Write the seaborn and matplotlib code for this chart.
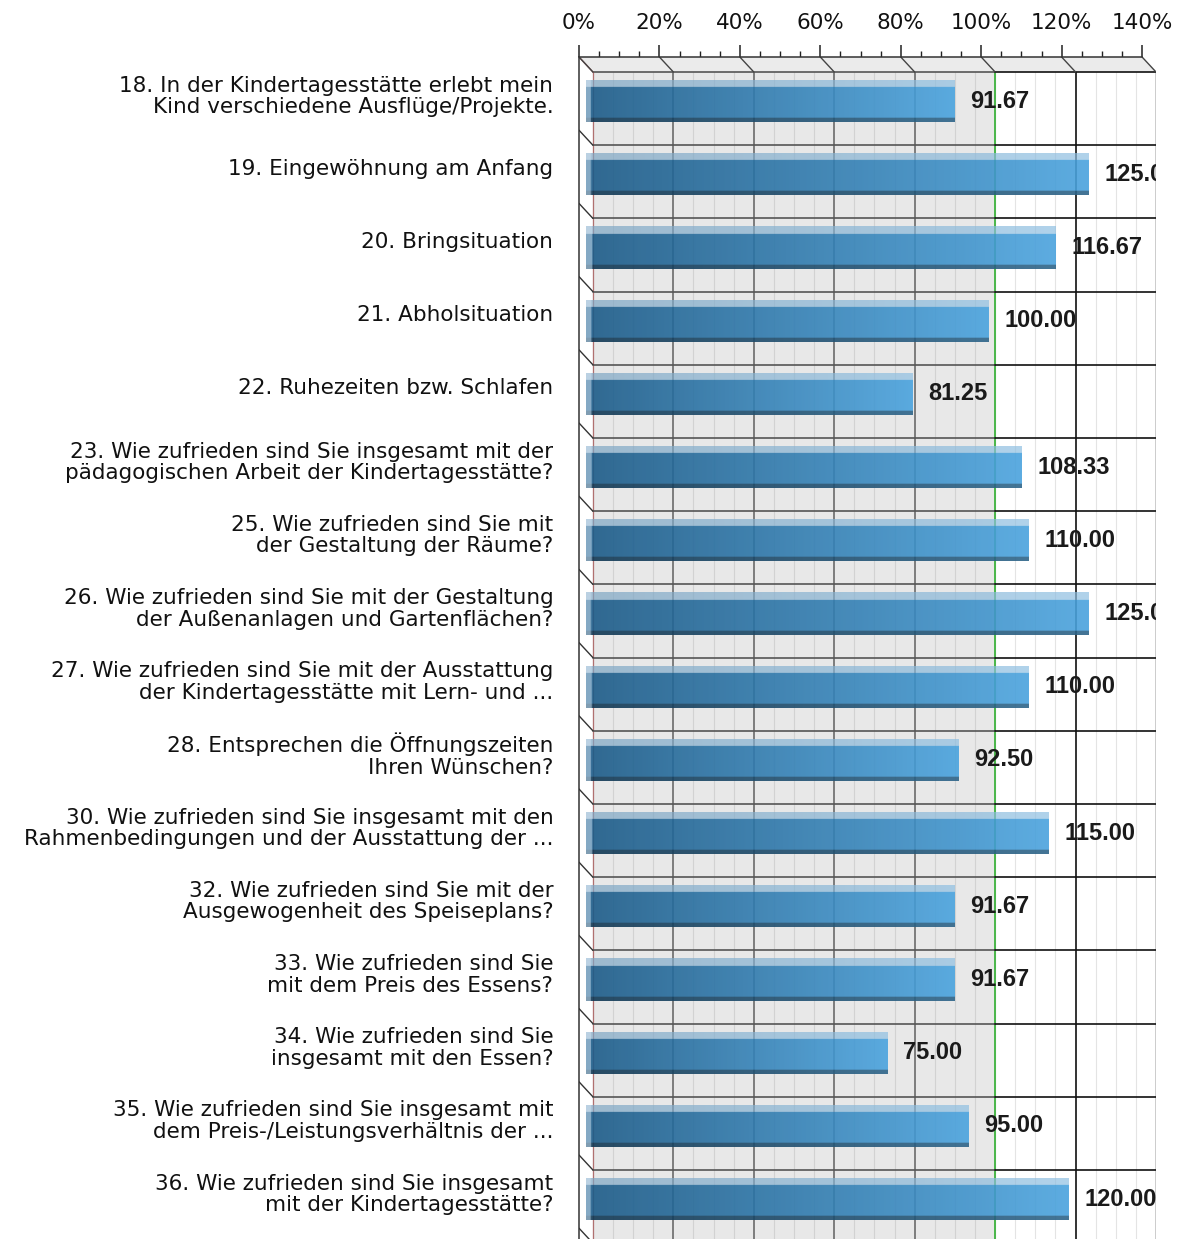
import numpy as np
import pandas as pd
import seaborn as sns
import matplotlib.pyplot as plt
from matplotlib.patches import Polygon, Rectangle

questions = [
    "18. In der Kindertagesstätte erlebt mein\nKind verschiedene Ausflüge/Projekte.",
    "19. Eingewöhnung am Anfang",
    "20. Bringsituation",
    "21. Abholsituation",
    "22. Ruhezeiten bzw. Schlafen",
    "23. Wie zufrieden sind Sie insgesamt mit der\npädagogischen Arbeit der Kindertagesstätte?",
    "25. Wie zufrieden sind Sie mit\nder Gestaltung der Räume?",
    "26. Wie zufrieden sind Sie mit der Gestaltung\nder Außenanlagen und Gartenflächen?",
    "27. Wie zufrieden sind Sie mit der Ausstattung\nder Kindertagesstätte mit Lern- und ...",
    "28. Entsprechen die Öffnungszeiten\nIhren Wünschen?",
    "30. Wie zufrieden sind Sie insgesamt mit den\nRahmenbedingungen und der Ausstattung der ...",
    "32. Wie zufrieden sind Sie mit der\nAusgewogenheit des Speiseplans?",
    "33. Wie zufrieden sind Sie\nmit dem Preis des Essens?",
    "34. Wie zufrieden sind Sie\ninsgesamt mit den Essen?",
    "35. Wie zufrieden sind Sie insgesamt mit\ndem Preis-/Leistungsverhältnis der ...",
    "36. Wie zufrieden sind Sie insgesamt\nmit der Kindertagesstätte?",
]
scores = [91.67, 125.00, 116.67, 100.00, 81.25, 108.33, 110.00, 125.00,
          110.00, 92.50, 115.00, 91.67, 91.67, 75.00, 95.00, 120.00]
pct_ticks = [0, 20, 40, 60, 80, 100, 120, 140]

sns.set_style("white")
plt.rcParams["font.family"] = ["DejaVu Sans"]

df = pd.DataFrame({"question": questions, "score": scores})
n = len(questions)

# fake 3d: back wall sits right of and below the front plane
dx = 3.46
dy = 0.205
x_max = pct_ticks[-1]

fig = plt.figure(figsize=(11.79, 12.39), dpi=100)
ax = fig.add_axes([579 / 1179, 0, 577 / 1179, 1182 / 1239])

sns.barplot(data=df, x="score", y="question", orient="h", width=0.574,
            color="#2f7fb8", ax=ax, zorder=3)
bars = list(ax.patches)

top_f = -0.5 - dy / 2
top_b = -0.5 + dy / 2
bot_b = n + 1

# back wall
ax.add_patch(Rectangle((dx / 2, top_b), 100, bot_b - top_b, color="#e8e8e8", zorder=0))
for v in range(0, x_max + 1, 5):
    xb = v + dx / 2
    if v == 0:
        c, lw = "#b07070", 0.9
    elif v == 100:
        c, lw = "#2eae2e", 1.2
    elif v == x_max:
        c, lw = "#c4c4c4", 1.2
    elif v % 20 == 0:
        c, lw = ("#6a6a6a" if v < 100 else "#111111"), 1.2
    else:
        c, lw = ("#d2d2d2" if v < 100 else "#e4e4e4"), 0.8
    ax.plot([xb, xb], [top_b, bot_b], color=c, lw=lw, zorder=1)

for b in np.arange(-0.5, n + 0.5, 1.0):
    yb = b + dy / 2
    ax.plot([dx / 2, 100 + dx / 2], [yb, yb], color="#555555", lw=1.2, zorder=1.5)
    ax.plot([100 + dx / 2, x_max + dx / 2], [yb, yb], color="#111111", lw=1.2, zorder=1.5)
    # left side diagonals
    ax.plot([-dx / 2, dx / 2], [b - dy / 2, yb],
            color="#a06060" if b < 0 else "#333333", lw=1.0, zorder=1.5)

# top face
ax.add_patch(Polygon([(-dx / 2, top_f), (x_max - dx / 2, top_f),
                      (x_max + dx / 2, top_b), (dx / 2, top_b)],
                     closed=True, facecolor="#ebebeb", edgecolor="none", zorder=1))
for v in pct_ticks:
    ax.plot([v - dx / 2, v + dx / 2], [top_f, top_b], color="#444444", lw=1.0, zorder=1.5)

# gradient fill for the bars
left_c = np.array([0x1b, 0x5a, 0x87]) / 255
right_c = np.array([0x4a, 0xa3, 0xde]) / 255
light_c = np.array([0xb4, 0xcf, 0xe4]) / 255
rows, cols = 60, 300
r = np.linspace(0, 1, rows)[:, None]
for p in bars:
    x0, y0, w, h = p.get_x(), p.get_y(), p.get_width(), p.get_height()
    t = np.linspace(0, 1, cols)
    base = left_c + (right_c - left_c) * t[:, None]
    img = np.tile(base[None, :, :], (rows, 1, 1))
    img = np.where((r < 0.17)[:, :, None], img * 0.35 + light_c * 0.65, img)
    img = np.where((r > 0.91)[:, :, None], img * 0.62, img)
    xs = x0 + t * w
    img = np.where((xs < 1.2)[None, :, None], img * 0.4 + light_c * 0.6, img)
    alpha = np.full((rows, cols, 1), 0.9)
    alpha[r[:, 0] < 0.17] = 0.7
    rgba = np.concatenate([img, alpha], axis=2)
    im = ax.imshow(rgba, extent=[x0, x0 + w, y0 + h, y0], aspect="auto",
                   interpolation="bilinear", zorder=3)
    im.set_clip_path(p)
    p.set_facecolor("none")
    p.set_edgecolor("none")

for i, v in enumerate(scores):
    ax.text(v + 3.95, i, f"{v:.2f}", ha="left", va="center", fontsize=17,
            fontweight="bold", family=["Liberation Sans", "DejaVu Sans"],
            color="#1a1a1a", zorder=5, clip_on=True)

ax.set_xlim(-dx / 2, x_max + dx / 2)
ax.set_ylim(top_f + 1182 / 73.2, top_f)

ax.xaxis.tick_top()
ax.set_xticks([v - dx / 2 for v in pct_ticks], [f"{v}%" for v in pct_ticks])
ax.set_xticks([v - dx / 2 for v in range(0, x_max + 1, 5)], minor=True)
ax.tick_params(axis="x", which="major", length=8.6, width=1.1, pad=9,
               labelsize=15.5, color="#222222", labelcolor="#111111")
ax.tick_params(axis="x", which="minor", length=4.3, width=1.0, color="#222222")

ax.set_yticks(np.arange(n) - dy / 2, questions)
ax.set_yticks(np.arange(n) + 0.5 - dy / 2, minor=True)
ax.tick_params(axis="y", which="major", length=0, pad=18.5, labelsize=15.5,
               labelcolor="#111111")
ax.tick_params(axis="y", which="minor", length=6, width=1.1, color="#222222")
for lbl in ax.get_yticklabels():
    lbl.set_linespacing(1.1)

ax.set_xlabel("")
ax.set_ylabel("")
ax.spines["right"].set_visible(False)
ax.spines["bottom"].set_visible(False)
ax.spines["top"].set_bounds(-dx / 2, x_max - dx / 2)
for s in ("top", "left"):
    ax.spines[s].set_color("#333333")
    ax.spines[s].set_linewidth(1.1)
    ax.spines[s].set_zorder(6)

fig.savefig("out.png", dpi=100)
